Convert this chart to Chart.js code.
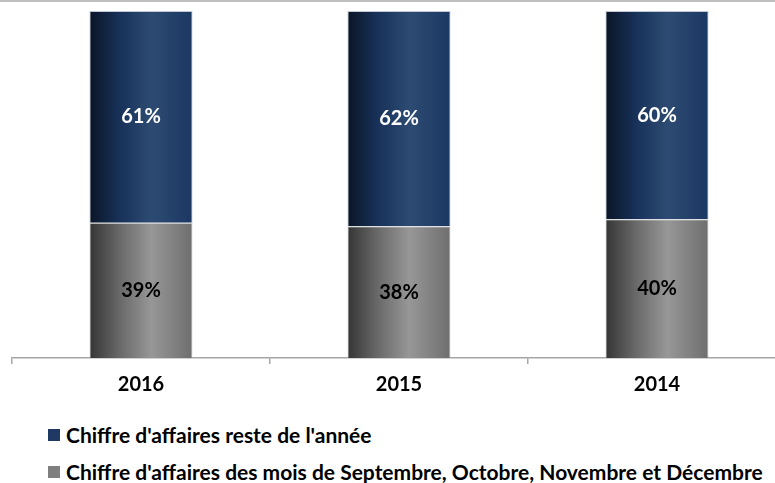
<!DOCTYPE html>
<html><head><meta charset="utf-8">
<script src="https://cdn.jsdelivr.net/npm/chart.js@4"></script>
<style>
html,body{margin:0;padding:0;background:#fff;}
#wrap{position:relative;width:775px;height:483px;overflow:hidden;}
#topline{position:absolute;left:0;top:0;width:775px;height:2px;background:#bfbfbf;z-index:2;}
#cv{position:absolute;left:0;top:0;}
#legend{position:absolute;left:48px;top:416px;font-family:Lato,'Open Sans',sans-serif;font-weight:bold;font-size:21px;color:#000;}
.li{display:flex;align-items:center;height:37px;}
.sw{width:12px;height:12px;margin-right:6px;}
</style></head><body>
<div id="wrap"><div id="topline"></div><canvas id="cv" width="800" height="406"></canvas><div id="legend"></div></div>
<script>
const categories = ['2016','2015','2014'];
const restOfYear = [61, 62, 60];
const sepToDec = [39, 38, 40];
const seriesNames = ["Chiffre d'affaires des mois de Septembre, Octobre, Novembre et Décembre", "Chiffre d'affaires reste de l'année"];

const FONT = "Lato, 'Open Sans', sans-serif";
const BAR_PCT = 0.4;
const stops = {
  grey: [[0,'#353535'],[0.3,'#6a6a6a'],[0.6,'#979797'],[1,'#6e6e6e']],
  navy: [[0,'#0a1526'],[0.3,'#18325a'],[0.6,'#2d4b72'],[1,'#1b3763']]
};
function gradFor(key){
  return function(ctx){
    const chart = ctx.chart;
    const xs = chart.scales && chart.scales.x;
    if(!chart.chartArea || !xs || ctx.dataIndex === undefined) return stops[key][2][1];
    const cx = xs.getPixelForValue(ctx.dataIndex);
    const w = (xs.width / chart.data.labels.length) * BAR_PCT;
    const g = chart.ctx.createLinearGradient(cx - w/2, 0, cx + w/2, 0);
    stops[key].forEach(s=>g.addColorStop(s[0],s[1]));
    return g;
  };
}
const labelPlugin = {
  id:'lbl',
  afterDatasetsDraw(chart){
    const c = chart.ctx;
    c.save();
    c.font = "bold 20px " + FONT;
    c.textAlign='center'; c.textBaseline='middle';
    chart.data.datasets.forEach((ds,i)=>{
      const meta = chart.getDatasetMeta(i);
      meta.data.forEach((el,j)=>{
        c.fillStyle = ds.key==='navy' ? '#ffffff' : '#000000';
        c.fillText(ds.data[j]+'%', el.x, (el.y+el.base)/2);
      });
    });
    c.restore();
  }
};
const chart = new Chart(document.getElementById('cv'), {
  type:'bar',
  data:{
    labels: categories,
    datasets:[
      {label: seriesNames[0], data: sepToDec, key:'grey', backgroundColor:gradFor('grey'), borderColor:'rgba(190,190,190,0.6)', borderWidth:1, barPercentage:BAR_PCT, categoryPercentage:1},
      {label: seriesNames[1], data: restOfYear, key:'navy', backgroundColor:gradFor('navy'), borderColor:'rgba(150,165,185,0.6)', borderWidth:1, barPercentage:BAR_PCT, categoryPercentage:1}
    ]
  },
  options:{
    responsive:false, animation:false,
    layout:{padding:{left:12,right:14,top:11,bottom:0}},
    plugins:{legend:{display:false}, tooltip:{enabled:false}},
    scales:{
      x:{stacked:true,
        grid:{offset:true, drawOnChartArea:false, drawTicks:true, tickLength:6, color:'#a6a6a6', lineWidth:1.5},
        border:{display:true, color:'#a6a6a6', width:1.5},
        ticks:{color:'#000', font:{family:FONT, size:20, weight:'bold'}, padding:9}
      },
      y:{stacked:true, display:false, min:0, max:100}
    }
  },
  plugins:[labelPlugin]
});
const leg = document.getElementById('legend');
[[1,'#1f3864'],[0,'#7f7f7f']].forEach(([i,col])=>{
  const d=document.createElement('div'); d.className='li';
  d.innerHTML='<span class="sw" style="background:'+col+'"></span><span>'+seriesNames[i]+'</span>';
  leg.appendChild(d);
});
</script>
</body></html>
